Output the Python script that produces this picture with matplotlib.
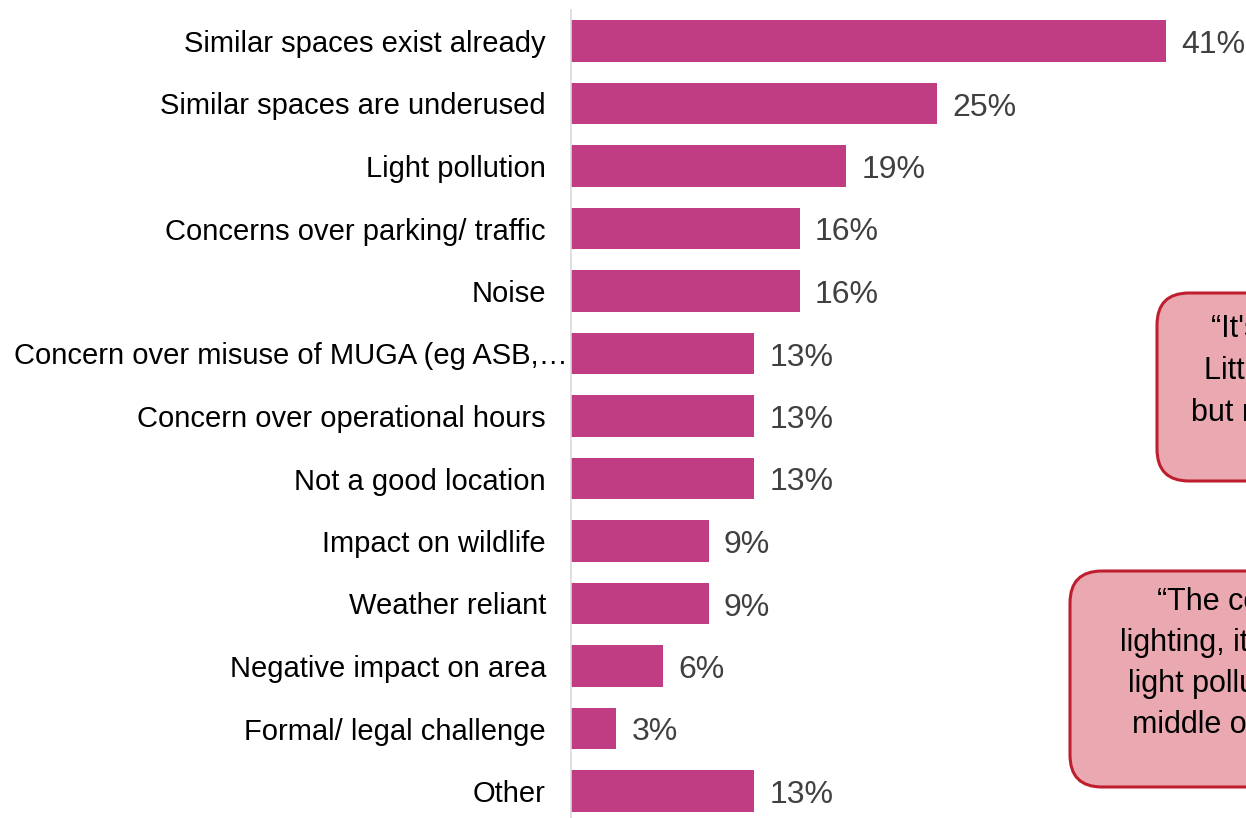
import matplotlib.pyplot as plt
from matplotlib.patches import FancyBboxPatch
from matplotlib.transforms import IdentityTransform, blended_transform_factory, offset_copy

plt.rcParams['font.family'] = ['Liberation Sans', 'DejaVu Sans']

# ======================
# data
# ======================
categories = [
    "Similar spaces exist already",
    "Similar spaces are underused",
    "Light pollution",
    "Concerns over parking/ traffic",
    "Noise",
    "Concern over misuse of MUGA (eg ASB,\u2026",
    "Concern over operational hours",
    "Not a good location",
    "Impact on wildlife",
    "Weather reliant",
    "Negative impact on area",
    "Formal/ legal challenge",
    "Other",
]
values = [40.6, 25.0, 18.8, 15.6, 15.6, 12.5, 12.5, 12.5, 9.4, 9.4, 6.3, 3.1, 12.5]
value_labels = ["41%", "25%", "19%", "16%", "16%", "13%", "13%", "13%",
                "9%", "9%", "6%", "3%", "13%"]

quote1 = ["\u201cIt's a great idea for", "Littleover and Findern", "but not in this spot\u201d"]
quote2 = ["\u201cThe concern is the", "lighting, it will cause", "light pollution in the", "middle of a residential area\u201d"]

BAR_COLOR = "#C03D84"
BOX_FILL = "#EAA9B1"
BOX_EDGE = "#BE1E2D"

W, H = 1246, 818
fig = plt.figure(figsize=(W / 100, H / 100), dpi=100)
ax = fig.add_axes([571 / W, 0, (W - 571) / W, 808 / H])

y = list(range(len(categories)))
ax.barh(y, values, height=0.66, color=BAR_COLOR)
ax.set_xlim(0, (W - 571) / 14.65)
ax.set_ylim(12.432, -0.496)

for s in ["top", "right", "bottom"]:
    ax.spines[s].set_visible(False)
ax.spines["left"].set_color("#D9D9D9")
ax.spines["left"].set_linewidth(1.2)
ax.set_xticks([])
ax.set_yticks([])

# category labels
trans = blended_transform_factory(ax.transAxes, ax.transData)
ftrans = blended_transform_factory(fig.transFigure, ax.transData)
for i, c in enumerate(categories):
    if c.startswith("Concern over misuse"):
        # truncated label runs right up to the axis
        ax.text(14 / W, i, c, transform=offset_copy(ftrans, fig=fig, x=0, y=-3, units="dots"),
                ha="left", va="center", fontsize=21, color="black")
    else:
        ax.text(0, i, c, transform=offset_copy(trans, fig=fig, x=-25, y=-3, units="dots"),
                ha="right", va="center", fontsize=21, color="black")

# value labels
vtrans = offset_copy(ax.transData, fig=fig, x=15, y=-4, units="dots")
for i, (v, t) in enumerate(zip(values, value_labels)):
    ax.text(v, i, t, transform=vtrans, ha="left", va="center", fontsize=23, color="#404040")

# callout boxes (cut off at right edge like the original slide)
ident = IdentityTransform()
def callout(x0, top, bottom, lines, starts, baselines, size):
    box = FancyBboxPatch((x0, H - bottom), 400, bottom - top,
                         boxstyle="round,pad=0,rounding_size=32",
                         facecolor=BOX_FILL, edgecolor=BOX_EDGE, linewidth=2.2,
                         transform=ident, clip_on=False)
    fig.patches.append(box)
    for ln, sx, by in zip(lines, starts, baselines):
        fig.text(sx / W, 1 - by / H, ln, ha="left", va="baseline", fontsize=size, color="black")

callout(1157, 293, 481, quote1, [1211, 1204, 1191], [337, 379, 421], 22)
callout(1070, 571, 787, quote2, [1157, 1120, 1128, 1132], [610, 651, 692, 733], 22)

fig.savefig("out.png", dpi=100)
